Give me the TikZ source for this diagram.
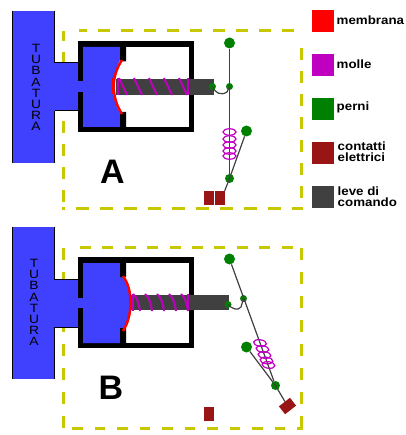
\documentclass[tikz,border=0pt]{standalone}
\usepackage{fontspec}
\setmainfont{Liberation Sans}
\newfontfamily\pipefont[FakeStretch=1.15]{Liberation Sans}
\newfontfamily\legendfont[FakeStretch=1.11]{Liberation Sans Bold}
\definecolor{tubeblue}{HTML}{4040FF}
\definecolor{framey}{HTML}{C8C800}
\definecolor{memred}{HTML}{FF0000}
\definecolor{springp}{HTML}{C000C0}
\definecolor{pinG}{HTML}{008000}
\definecolor{contactR}{HTML}{991515}
\definecolor{leverG}{HTML}{404040}
\usetikzlibrary{shapes.geometric}
\tikzset{
  pin/.style={circle,fill=pinG,inner sep=0pt,minimum size=#1},
  contactbox/.style={fill=contactR,inner sep=0pt,minimum width=10pt,minimum height=14pt},
  thinlever/.style={draw=leverG,line width=1.2pt},
  frameline/.style={draw=framey,line width=3pt,dash pattern=on 12pt off 11pt},
  coilloop/.style={draw=springp,line width=1.2pt,ellipse,inner sep=0pt,minimum width=13pt,minimum height=6.5pt},
  coilbar/.style={draw=springp,line width=2pt},
  memline/.style={draw=memred,line width=2.5pt},
  swatch/.style={inner sep=0pt,minimum size=22pt},
  legendtext/.style={font=\legendfont\fontsize{12}{11.2}\selectfont,anchor=west,align=left,inner sep=0pt,text=black},
  pipetext/.style={font=\pipefont\fontsize{12}{11.1}\selectfont,align=center,inner sep=0pt,text=black},
  panelletter/.style={font=\bfseries\fontsize{34}{34}\selectfont,inner sep=0pt,text=black}
}
\begin{document}
\begin{tikzpicture}[x=1pt,y=-1pt]
\useasboundingbox (0,0) rectangle (405,435);
% ---------- Panel A
\draw[frameline,dash phase=2pt] (63,31) -- (63,210);
\draw[frameline,dash phase=4pt] (79,31) -- (298,31);
\draw[frameline] (301.5,48) -- (301.5,210);
\draw[frameline,dash pattern=on 13pt off 11pt,dash phase=10pt] (62,208.5) -- (303,208.5);
\fill[tubeblue] (13,11) rectangle (54,163);
\fill[tubeblue] (54,63) rectangle (79,111);
\draw[black,line width=1pt] (54.5,11) -- (54.5,63) -- (78,63) (54.5,111) -- (78,111);
\draw[black,line width=1pt] (54.5,111) -- (54.5,163) (12.5,11) -- (12.5,163);
\fill[black] (78,41) rectangle (194,132);
\fill[white] (83,47) rectangle (189,127);
\fill[tubeblue] (78,81.5) rectangle (84,92);
\fill[tubeblue] (83,47) -- (120,47) -- (120,60) .. controls (115,70) and (113,80) .. (113,88) .. controls (113,96) and (115,105) .. (120,113) -- (120,127) -- (83,127) -- cycle;
\fill[black] (120,47) rectangle (126,61.5) (120,112) rectangle (126,127);
\fill[leverG] (116,79) rectangle (214,95);
\draw[memline] (122,60) .. controls (116,69) and (114,78) .. (113.5,86) .. controls (114,96) and (116,105) .. (122,114);
\fill[memred] (112,78) rectangle (115,94);
\draw[coilbar] (117.5,78) -- (117.5,95) (188,78) -- (188,95);
\draw[coilbar] (119,78) -- (127,95) (134,78) -- (142,95) (149,78) -- (157,95) (164,78) -- (172,95) (179,78) -- (187,95);
\node[pin=11pt] (atop) at (229.5,43) {};
\node[pin=7pt] (amid) at (229.5,86.5) {};
\node[pin=7pt] (alev) at (212.5,86.5) {};
\node[pin=9pt] (abot) at (229.5,178.5) {};
\node[pin=11pt] (aright) at (246.5,131) {};
\node[contactbox] (ac1) at (209,198) {};
\node[contactbox] (ac2) at (219.5,198) {};
\draw[thinlever] (atop) -- (abot);
\draw[thinlever] (aright) -- (abot.center) -- (ac2.north east);
\draw[thinlever] (alev.center) .. controls (215,93) and (221,96) .. (227,92) -- (amid.center);
\foreach \yy in {132,139,145,151,156}{\node[coilloop] at (229.5,\yy) {};}
\node[pipetext] (atxt) at (36,87.5) {T\\U\\B\\A\\T\\U\\R\\A};
\node[panelletter] (aname) at (112.5,171.5) {A};
% ---------- Panel B
\draw[frameline,dash pattern=on 12pt off 12pt] (63,248) -- (63,429);
\draw[frameline,dash pattern=on 11pt off 11.4pt] (80,247) -- (303,247);
\draw[frameline,dash pattern=on 12pt off 12pt] (301.5,248) -- (301.5,429);
\draw[frameline,dash pattern=on 10.5pt off 12pt] (72,428) -- (303,428);
\fill[tubeblue] (13,227) rectangle (54,379);
\fill[tubeblue] (54,279) rectangle (79,327);
\draw[black,line width=1pt] (54.5,227) -- (54.5,279) -- (78,279) (54.5,327) -- (78,327);
\draw[black,line width=1pt] (54.5,327) -- (54.5,379) (12.5,227) -- (12.5,379);
\fill[black] (78,257) rectangle (194,348);
\fill[white] (83,263) rectangle (189,343);
\fill[tubeblue] (78,297.5) rectangle (84,308);
\fill[tubeblue] (83,263) -- (120,263) -- (120,276) -- (123,276) .. controls (128,285) and (130,294) .. (130,303) .. controls (130,314) and (128,322) .. (123,330) -- (120,330) -- (120,343) -- (83,343) -- cycle;
\fill[black] (120,263) rectangle (126,277) (120,328) rectangle (126,343);
\fill[leverG] (130,295) rectangle (229,310);
\draw[memline] (123,276) .. controls (128,283) and (130.5,292) .. (130.5,302) .. controls (130.5,314) and (128,323) .. (123,331);
\fill[memred] (129,295) rectangle (132,310);
\draw[coilbar] (133,294) -- (133,311) (188,294) -- (188,311);
\draw[coilbar] (133,294) .. controls (138,298) and (139,305) .. (140,311);
\draw[coilbar] (145,294) .. controls (150,298) and (151,305) .. (152,311);
\draw[coilbar] (157,294) .. controls (162,298) and (163,305) .. (164,311);
\draw[coilbar] (169,294) .. controls (174,298) and (175,305) .. (176,311);
\draw[coilbar] (181,294) .. controls (186,298) and (187,305) .. (188,311);
\node[pin=11pt] (btop) at (229.5,259) {};
\node[pin=7pt] (bmid) at (243.5,298.5) {};
\node[pin=7pt] (blev) at (228,304.5) {};
\node[pin=9pt] (bbot) at (275.5,385.5) {};
\node[pin=11pt] (bright) at (246.5,347) {};
\node[contactbox] (bc1) at (209,414) {};
\node[contactbox,rotate=-52] (bc2) at (287.5,406) {};
\draw[thinlever] (btop) -- (bbot);
\draw[thinlever] (bright) -- (bbot.center) -- (bc2);
\draw[thinlever] (blev.center) .. controls (232,309) and (238,311) .. (241,307) -- (bmid.center);
\node[coilloop,rotate=-8] at (260,343) {};
\node[coilloop,rotate=-8] at (262.5,349) {};
\node[coilloop,rotate=-8] at (264.5,355) {};
\node[coilloop,rotate=-8] at (266.5,360.5) {};
\node[coilloop,rotate=-8] at (268.5,365) {};
\node[pipetext] (btxt) at (34,302.5) {T\\U\\B\\A\\T\\U\\R\\A};
\node[panelletter] (bname) at (111,387.5) {B};
% ---------- Legend
\node[swatch,fill=memred] (l1) at (323,21) {};
\node[swatch,fill=springp] (l2) at (323,65) {};
\node[swatch,fill=pinG] (l3) at (323,109) {};
\node[swatch,fill=contactR] (l4) at (323,153) {};
\node[swatch,fill=leverG] (l5) at (323,197) {};
\node[legendtext] (t1) at (336.5,20.5) {membrana};
\node[legendtext] (t2) at (336.5,64.5) {molle};
\node[legendtext] (t3) at (336.5,107) {perni};
\node[legendtext] (t4) at (337.5,152) {contatti\\elettrici};
\node[legendtext] (t5) at (337.5,197) {leve di\\comando};
\end{tikzpicture}
\end{document}
